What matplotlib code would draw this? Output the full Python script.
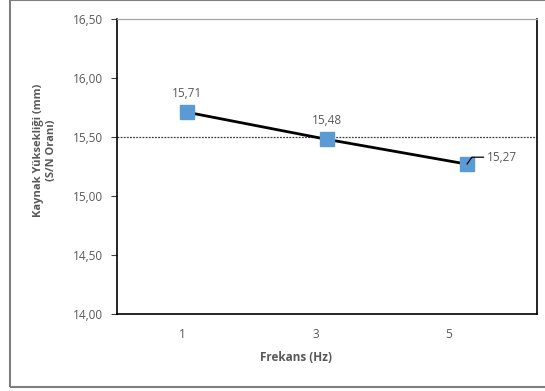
import matplotlib.pyplot as plt
from matplotlib.patches import Rectangle

plt.rcParams['font.family'] = ['Open Sans', 'DejaVu Sans']

# datos
frekans = ['1', '3', '5']
sn_orani = [15.71, 15.48, 15.27]
etiketler = ['15,71', '15,48', '15,27']
y_ticks = [14.0, 14.5, 15.0, 15.5, 16.0, 16.5]
y_tick_labels = ['14,00', '14,50', '15,00', '15,50', '16,00', '16,50']
ortalama = 15.50

gris = '#595959'

fig = plt.figure(figsize=(5.45, 3.91), dpi=100)
ax = fig.add_axes([117 / 545, 1 - 314 / 391, 420 / 545, 295 / 391])

# borde exterior del grafico (el lado derecho queda fuera de la imagen)
fig.patches.append(Rectangle((10 / 545, 4 / 391), 1.05 - 10 / 545, 1 - 4 / 391 - 0.001,
                             transform=fig.transFigure, fill=False, clip_on=False,
                             edgecolor='#7f7f7f', linewidth=1.5))

x = list(range(len(frekans)))
ax.axhline(ortalama, color='#404040', linestyle=(0, (1.5, 1)), linewidth=0.9, zorder=1)
ax.plot(x, sn_orani, color='black', linewidth=2, zorder=2)
ax.plot(x, sn_orani, linestyle='none', marker='s', markersize=9.5,
        color='#5b9bd5', zorder=3)

ax.annotate(etiketler[0], (x[0], sn_orani[0]), xytext=(0, 9), textcoords='offset points',
            ha='center', va='bottom', fontsize=8.5, color=gris)
ax.annotate(etiketler[1], (x[1], sn_orani[1]), xytext=(0, 9), textcoords='offset points',
            ha='center', va='bottom', fontsize=8.5, color=gris)
ax.annotate(etiketler[2], (x[2], sn_orani[2]), xytext=(14, 5), textcoords='offset points',
            ha='left', va='center', fontsize=8.5, color=gris,
            arrowprops=dict(arrowstyle='-', color='black', lw=0.9,
                            shrinkA=0, shrinkB=0,
                            connectionstyle='angle,angleA=0,angleB=55,rad=0'))

ax.set_xlim(-0.5, len(frekans) - 0.5)
ax.set_ylim(14.0, 16.5)
ax.set_yticks(y_ticks)
ax.set_yticklabels(y_tick_labels)
ax.set_xticks([v - 0.05 * v - 0.03 for v in x])
ax.set_xticklabels(frekans)
ax.tick_params(axis='x', length=0, pad=10, labelsize=8.5, labelcolor=gris)
ax.tick_params(axis='y', length=4, width=0.8, pad=6, labelsize=8.5, labelcolor=gris,
               color='#404040')

ax.set_xlabel('Frekans (Hz)', fontsize=8.5, fontweight='bold', color=gris)
ax.set_ylabel('Kaynak Yüksekliği (mm)\n(S/N Oranı)', fontsize=8, fontweight='bold',
              color=gris)
ax.xaxis.set_label_coords((296 - 117) / 420, -37 / 295)
ax.yaxis.set_label_coords(-(117 - 57) / 420, (314 - 150) / 295)

for lado in ['left', 'bottom', 'right']:
    ax.spines[lado].set_color('black')
    ax.spines[lado].set_linewidth(1.2)
ax.spines['top'].set_color('#a6a6a6')
ax.spines['top'].set_linewidth(0.9)

fig.savefig('out.png', dpi=100)
